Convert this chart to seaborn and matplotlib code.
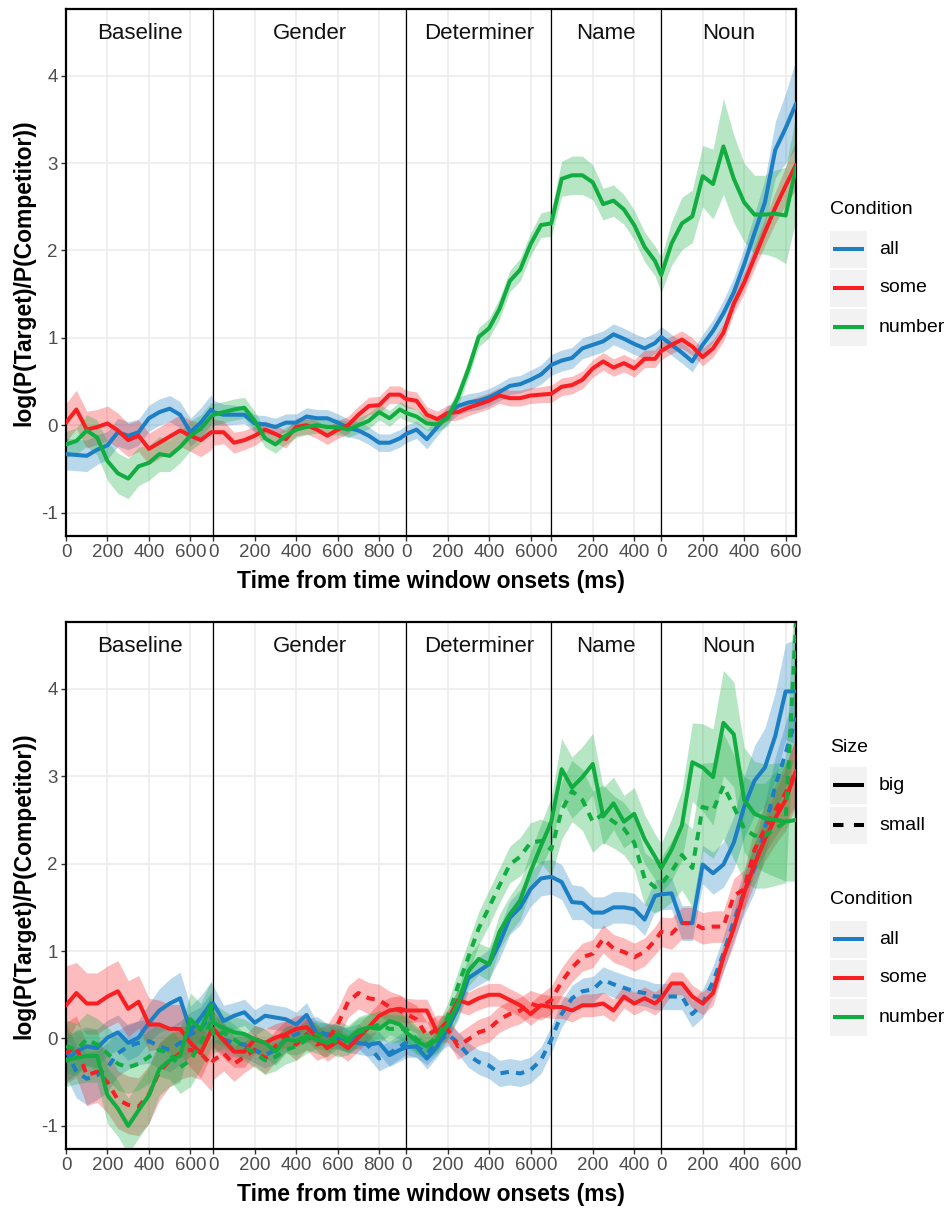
import numpy as np
import pandas as pd
import matplotlib
matplotlib.use("Agg")
import matplotlib.pyplot as plt
import seaborn as sns
from matplotlib.patches import Rectangle
from matplotlib.transforms import blended_transform_factory

# ---------------------------------------------------------------- data
segments = ["Baseline", "Gender", "Determiner", "Name", "Noun"]
segment_lengths = [710, 930, 700, 530, 650]          # ms shown per window
segment_samples = [15, 19, 14, 11, 14]               # 50-ms bins per window
segment_ticks = [[0, 200, 400, 600], [0, 200, 400, 600, 800],
                 [0, 200, 400, 600], [0, 200, 400], [0, 200, 400, 600]]
bin_ms = 50

conditions = ["all", "some", "number"]
sizes = ["big", "small"]
palette = {"all": "#1C7EC3", "some": "#F81E22", "number": "#12AD40"}

# Upper panel: mean log-ratio per condition, one sub-list per window
top_all = [
    [-0.33, -0.34, -0.35, -0.28, -0.23, -0.08, -0.12, -0.08, 0.08, 0.15, 0.19, 0.12, -0.08, 0.03, 0.18],
    [0.15, 0.12, 0.12, 0.12, 0.02, 0.01, -0.02, 0.03, 0.03, 0.10, 0.08, 0.08, 0.03, -0.03, -0.06, -0.12, -0.20, -0.20, -0.15],
    [-0.10, -0.05, -0.16, -0.02, 0.12, 0.22, 0.26, 0.28, 0.32, 0.38, 0.45, 0.47, 0.52, 0.58],
    [0.69, 0.74, 0.77, 0.88, 0.92, 0.96, 1.04, 0.99, 0.93, 0.88, 0.94],
    [1.01, 0.92, 0.83, 0.73, 0.92, 1.08, 1.28, 1.52, 1.84, 2.20, 2.55, 3.15, 3.40, 3.68],
]
top_all_ci = [
    [0.18, 0.18, 0.18, 0.17, 0.16, 0.16, 0.16, 0.15, 0.15, 0.15, 0.15, 0.15, 0.16, 0.17, 0.17],
    [0.14, 0.12, 0.11, 0.10, 0.10, 0.10, 0.10, 0.10, 0.10, 0.10, 0.10, 0.10, 0.10, 0.10, 0.10, 0.10, 0.10, 0.10, 0.10],
    [0.10, 0.10, 0.11, 0.10, 0.10, 0.10, 0.10, 0.10, 0.10, 0.10, 0.10, 0.10, 0.11, 0.11],
    [0.12, 0.12, 0.12, 0.12, 0.12, 0.12, 0.12, 0.12, 0.12, 0.12, 0.12],
    [0.12, 0.12, 0.12, 0.12, 0.12, 0.13, 0.15, 0.17, 0.19, 0.22, 0.26, 0.32, 0.40, 0.50],
]
top_some = [
    [0.03, 0.18, -0.05, -0.02, 0.02, -0.06, -0.17, -0.12, -0.27, -0.20, -0.13, -0.06, -0.12, -0.17, -0.08],
    [-0.08, -0.08, -0.20, -0.17, -0.12, -0.05, -0.10, -0.16, -0.02, 0.00, -0.05, -0.12, -0.05, 0.00, 0.12, 0.22, 0.23, 0.35, 0.35],
    [0.30, 0.28, 0.12, 0.07, 0.14, 0.15, 0.20, 0.24, 0.28, 0.34, 0.31, 0.31, 0.34, 0.35],
    [0.36, 0.44, 0.46, 0.52, 0.65, 0.73, 0.66, 0.71, 0.65, 0.76, 0.76],
    [0.85, 0.92, 0.98, 0.90, 0.78, 0.88, 1.06, 1.39, 1.63, 1.92, 2.21, 2.49, 2.74, 2.98],
]
top_some_ci = [
    [0.22, 0.22, 0.21, 0.20, 0.20, 0.20, 0.19, 0.18, 0.18, 0.18, 0.18, 0.18, 0.18, 0.19, 0.20],
    [0.15, 0.13, 0.12, 0.11, 0.11, 0.10, 0.10, 0.10, 0.10, 0.10, 0.10, 0.10, 0.10, 0.10, 0.10, 0.10, 0.10, 0.10, 0.10],
    [0.10, 0.10, 0.09, 0.09, 0.09, 0.09, 0.09, 0.09, 0.09, 0.09, 0.09, 0.09, 0.09, 0.09],
    [0.10, 0.10, 0.10, 0.10, 0.10, 0.10, 0.10, 0.10, 0.10, 0.10, 0.10],
    [0.10, 0.10, 0.10, 0.10, 0.10, 0.10, 0.10, 0.11, 0.12, 0.13, 0.15, 0.18, 0.22, 0.28],
]
top_number = [
    [-0.22, -0.18, -0.06, -0.14, -0.41, -0.55, -0.61, -0.47, -0.43, -0.33, -0.35, -0.25, -0.12, -0.04, 0.10],
    [0.12, 0.15, 0.18, 0.20, 0.05, -0.15, -0.22, -0.12, -0.05, -0.02, 0.00, -0.02, -0.02, -0.05, 0.00, 0.05, 0.15, 0.08, 0.18],
    [0.14, 0.10, 0.02, 0.01, 0.08, 0.32, 0.64, 1.01, 1.11, 1.33, 1.65, 1.78, 2.07, 2.29],
    [2.31, 2.82, 2.86, 2.86, 2.78, 2.53, 2.57, 2.47, 2.29, 2.04, 1.88],
    [1.72, 2.08, 2.31, 2.39, 2.85, 2.76, 3.19, 2.82, 2.55, 2.41, 2.41, 2.42, 2.40, 2.95],
]
top_number_ci = [
    [0.15, 0.15, 0.18, 0.20, 0.22, 0.23, 0.23, 0.22, 0.20, 0.20, 0.18, 0.18, 0.17, 0.16, 0.16],
    [0.13, 0.12, 0.12, 0.12, 0.11, 0.10, 0.10, 0.10, 0.09, 0.09, 0.09, 0.09, 0.09, 0.09, 0.09, 0.09, 0.09, 0.09, 0.09],
    [0.09, 0.08, 0.08, 0.08, 0.09, 0.10, 0.10, 0.11, 0.11, 0.12, 0.12, 0.13, 0.13, 0.14],
    [0.15, 0.20, 0.22, 0.22, 0.20, 0.18, 0.18, 0.17, 0.17, 0.17, 0.17],
    [0.20, 0.25, 0.30, 0.30, 0.35, 0.40, 0.55, 0.50, 0.45, 0.45, 0.45, 0.50, 0.55, 0.60],
]

# Lower panel: condition x size
bot_all_big = [
    [-0.25, -0.15, -0.09, -0.11, 0.01, 0.07, -0.05, 0.01, 0.18, 0.32, 0.40, 0.46, 0.09, 0.24, 0.40],
    [0.40, 0.20, 0.26, 0.30, 0.18, 0.26, 0.24, 0.22, 0.16, 0.27, 0.05, 0.05, 0.03, -0.03, -0.05, -0.07, -0.05, -0.19, -0.13],
    [-0.10, -0.09, -0.23, -0.09, 0.11, 0.35, 0.69, 0.77, 0.85, 1.09, 1.38, 1.50, 1.71, 1.83],
    [1.85, 1.79, 1.56, 1.55, 1.44, 1.44, 1.50, 1.50, 1.48, 1.36, 1.63],
    [1.65, 1.66, 1.32, 1.32, 1.99, 1.89, 1.99, 2.24, 2.65, 2.95, 3.10, 3.46, 3.97, 3.97],
]
bot_all_big_ci = [
    [0.25, 0.25, 0.22, 0.22, 0.20, 0.20, 0.20, 0.20, 0.22, 0.25, 0.28, 0.30, 0.28, 0.25, 0.25],
    [0.20, 0.18, 0.15, 0.15, 0.15, 0.14, 0.14, 0.14, 0.14, 0.14, 0.13, 0.13, 0.13, 0.13, 0.13, 0.13, 0.13, 0.13, 0.13],
    [0.12, 0.12, 0.12, 0.12, 0.13, 0.14, 0.15, 0.16, 0.17, 0.18, 0.19, 0.20, 0.20, 0.20],
    [0.20, 0.20, 0.20, 0.19, 0.18, 0.18, 0.18, 0.18, 0.18, 0.18, 0.18],
    [0.18, 0.18, 0.20, 0.20, 0.22, 0.24, 0.26, 0.30, 0.35, 0.40, 0.45, 0.50, 0.55, 0.60],
]
bot_all_small = [
    [-0.13, -0.38, -0.46, -0.42, -0.33, -0.17, -0.09, -0.05, -0.03, -0.09, -0.13, -0.05, 0.05, 0.11, 0.28],
    [0.11, -0.01, -0.05, -0.07, -0.13, -0.19, -0.13, -0.01, 0.05, 0.09, 0.11, 0.03, 0.01, -0.01, 0.03, -0.09, -0.23, -0.17, -0.09],
    [-0.05, -0.09, -0.17, -0.05, 0.05, -0.05, -0.19, -0.27, -0.31, -0.40, -0.38, -0.40, -0.36, -0.25],
    [-0.01, 0.28, 0.46, 0.54, 0.56, 0.67, 0.62, 0.58, 0.54, 0.52, 0.48],
    [0.48, 0.48, 0.48, 0.28, 0.40, 0.65, 0.97, 1.34, 1.67, 1.95, 2.40, 2.89, 3.26, 3.67],
]
bot_all_small_ci = [
    [0.30, 0.30, 0.30, 0.28, 0.28, 0.26, 0.26, 0.25, 0.25, 0.25, 0.25, 0.25, 0.25, 0.25, 0.25],
    [0.20, 0.18, 0.16, 0.15, 0.15, 0.15, 0.15, 0.14, 0.14, 0.14, 0.14, 0.14, 0.14, 0.14, 0.14, 0.14, 0.14, 0.14, 0.14],
    [0.13, 0.13, 0.13, 0.13, 0.13, 0.13, 0.14, 0.14, 0.15, 0.15, 0.15, 0.15, 0.15, 0.15],
    [0.15, 0.15, 0.15, 0.15, 0.15, 0.15, 0.15, 0.15, 0.15, 0.15, 0.15],
    [0.15, 0.15, 0.15, 0.15, 0.16, 0.18, 0.20, 0.22, 0.25, 0.28, 0.30, 0.33, 0.35, 0.40],
]
bot_some_big = [
    [0.38, 0.52, 0.40, 0.40, 0.48, 0.54, 0.34, 0.42, 0.16, 0.16, 0.11, 0.11, -0.05, -0.17, 0.09],
    [0.11, -0.02, -0.15, -0.15, -0.01, -0.05, 0.01, 0.05, 0.11, 0.13, 0.01, -0.11, -0.03, -0.11, 0.01, 0.13, 0.26, 0.32, 0.34],
    [0.32, 0.32, 0.32, 0.07, 0.20, 0.44, 0.40, 0.46, 0.50, 0.50, 0.44, 0.38, 0.28, 0.38],
    [0.36, 0.36, 0.32, 0.38, 0.38, 0.40, 0.32, 0.48, 0.40, 0.46, 0.40],
    [0.46, 0.63, 0.63, 0.48, 0.40, 0.52, 0.93, 1.26, 1.67, 1.99, 2.28, 2.52, 2.73, 3.06],
]
bot_some_big_ci = [
    [0.45, 0.35, 0.35, 0.35, 0.35, 0.35, 0.32, 0.30, 0.30, 0.28, 0.28, 0.28, 0.28, 0.28, 0.28],
    [0.22, 0.20, 0.18, 0.18, 0.16, 0.16, 0.16, 0.15, 0.15, 0.15, 0.15, 0.15, 0.15, 0.15, 0.15, 0.15, 0.15, 0.15, 0.15],
    [0.14, 0.13, 0.13, 0.13, 0.13, 0.13, 0.13, 0.13, 0.13, 0.13, 0.13, 0.13, 0.13, 0.13],
    [0.13, 0.13, 0.13, 0.13, 0.13, 0.13, 0.13, 0.13, 0.13, 0.13, 0.13],
    [0.13, 0.13, 0.13, 0.13, 0.13, 0.14, 0.16, 0.18, 0.20, 0.22, 0.25, 0.30, 0.35, 0.40],
]
bot_some_small = [
    [-0.17, -0.09, -0.42, -0.38, -0.50, -0.70, -0.76, -0.78, -0.64, -0.38, -0.25, -0.17, -0.13, -0.17, -0.30],
    [-0.25, -0.17, -0.29, -0.21, -0.13, -0.23, -0.09, 0.03, -0.07, 0.05, -0.07, -0.02, 0.16, 0.42, 0.52, 0.46, 0.44, 0.36, 0.32],
    [0.28, 0.22, 0.03, 0.11, 0.11, -0.09, -0.01, 0.07, 0.11, 0.22, 0.28, 0.32, 0.40, 0.36],
    [0.44, 0.65, 0.81, 0.93, 0.97, 1.14, 1.03, 0.99, 0.93, 0.99, 1.12],
    [1.22, 1.20, 1.32, 1.32, 1.26, 1.28, 1.28, 1.63, 1.71, 2.16, 2.40, 2.61, 2.81, 3.06],
]
bot_some_small_ci = [
    [0.35, 0.35, 0.35, 0.35, 0.35, 0.33, 0.33, 0.33, 0.33, 0.33, 0.30, 0.30, 0.30, 0.30, 0.30],
    [0.22, 0.20, 0.20, 0.18, 0.18, 0.18, 0.18, 0.18, 0.18, 0.18, 0.18, 0.18, 0.18, 0.18, 0.18, 0.18, 0.18, 0.18, 0.18],
    [0.16, 0.16, 0.16, 0.16, 0.15, 0.15, 0.15, 0.15, 0.15, 0.15, 0.15, 0.15, 0.15, 0.15],
    [0.16, 0.16, 0.16, 0.16, 0.16, 0.16, 0.16, 0.16, 0.16, 0.16, 0.16],
    [0.17, 0.18, 0.18, 0.18, 0.18, 0.18, 0.18, 0.20, 0.22, 0.25, 0.28, 0.30, 0.33, 0.38],
]
bot_number_big = [
    [-0.25, -0.22, -0.20, -0.20, -0.65, -0.80, -1.00, -0.82, -0.65, -0.35, -0.25, -0.20, 0.22, 0.10, 0.38],
    [0.18, 0.12, 0.07, 0.05, -0.01, -0.05, -0.15, -0.01, -0.03, 0.03, -0.01, -0.05, 0.05, -0.01, 0.09, 0.13, 0.11, 0.20, 0.16],
    [0.07, -0.03, -0.09, -0.01, 0.16, 0.40, 0.77, 0.91, 0.85, 1.22, 1.42, 1.58, 1.91, 2.20],
    [2.48, 3.08, 2.87, 2.99, 3.14, 2.54, 2.69, 2.48, 2.57, 2.28, 2.08],
    [1.95, 2.16, 2.44, 3.16, 3.10, 2.99, 3.61, 3.48, 2.73, 2.57, 2.52, 2.50, 2.48, 2.50],
]
bot_number_big_ci = [
    [0.30, 0.30, 0.30, 0.30, 0.32, 0.32, 0.32, 0.32, 0.32, 0.30, 0.30, 0.30, 0.30, 0.30, 0.28],
    [0.22, 0.20, 0.18, 0.17, 0.16, 0.16, 0.16, 0.16, 0.16, 0.16, 0.16, 0.16, 0.16, 0.16, 0.16, 0.16, 0.16, 0.16, 0.16],
    [0.15, 0.15, 0.15, 0.15, 0.15, 0.16, 0.17, 0.18, 0.19, 0.20, 0.21, 0.22, 0.23, 0.25],
    [0.28, 0.35, 0.35, 0.35, 0.35, 0.33, 0.30, 0.30, 0.30, 0.28, 0.26],
    [0.28, 0.35, 0.40, 0.45, 0.50, 0.55, 0.60, 0.60, 0.60, 0.60, 0.62, 0.65, 0.68, 0.70],
]
bot_number_small = [
    [-0.09, -0.13, -0.01, -0.07, -0.17, -0.29, -0.33, -0.29, -0.21, -0.13, -0.17, -0.33, -0.25, -0.05, 0.20],
    [0.03, 0.07, -0.01, -0.09, -0.17, -0.25, -0.21, -0.13, -0.09, -0.01, 0.05, 0.01, -0.05, -0.03, 0.07, 0.11, 0.16, 0.11, 0.11],
    [0.11, -0.01, -0.07, 0.01, 0.24, 0.60, 0.93, 1.26, 1.50, 1.75, 1.99, 2.08, 2.24, 2.26],
    [2.16, 2.61, 2.83, 2.73, 2.48, 2.57, 2.48, 2.40, 2.24, 1.83, 1.73],
    [1.77, 1.91, 2.10, 1.95, 2.65, 2.61, 2.89, 2.65, 2.40, 2.32, 2.32, 2.40, 2.48, 4.75],
]
bot_number_small_ci = [
    [0.30, 0.30, 0.30, 0.30, 0.30, 0.30, 0.30, 0.30, 0.30, 0.30, 0.30, 0.30, 0.30, 0.30, 0.30],
    [0.20, 0.18, 0.17, 0.16, 0.16, 0.16, 0.16, 0.16, 0.16, 0.16, 0.16, 0.16, 0.16, 0.16, 0.16, 0.16, 0.16, 0.16, 0.16],
    [0.15, 0.15, 0.15, 0.15, 0.16, 0.17, 0.18, 0.19, 0.20, 0.20, 0.21, 0.22, 0.23, 0.25],
    [0.30, 0.33, 0.35, 0.35, 0.35, 0.33, 0.30, 0.30, 0.30, 0.30, 0.30],
    [0.30, 0.35, 0.40, 0.45, 0.50, 0.55, 0.60, 0.60, 0.60, 0.60, 0.60, 0.65, 0.70, 0.75],
]

top_series = {
    ("all", "big"): (top_all, top_all_ci),
    ("some", "big"): (top_some, top_some_ci),
    ("number", "big"): (top_number, top_number_ci),
}
bot_series = {
    ("all", "big"): (bot_all_big, bot_all_big_ci),
    ("all", "small"): (bot_all_small, bot_all_small_ci),
    ("some", "big"): (bot_some_big, bot_some_big_ci),
    ("some", "small"): (bot_some_small, bot_some_small_ci),
    ("number", "big"): (bot_number_big, bot_number_big_ci),
    ("number", "small"): (bot_number_small, bot_number_small_ci),
}

# ------------------------------------------------------- time axis
offsets = np.concatenate([[0], np.cumsum(segment_lengths)[:-1]])
x_end = float(np.sum(segment_lengths))
sample_x = np.concatenate([off + bin_ms * np.arange(n)
                           for off, n in zip(offsets, segment_samples)])
tick_pos, tick_lab = [], []
for off, ticks in zip(offsets, segment_ticks):
    for t in ticks:
        tick_pos.append(off + t)
        tick_lab.append(str(t))


def to_frame(series):
    rows = []
    for (cond, size), (vals, ci) in series.items():
        y = np.concatenate([np.asarray(v, float) for v in vals])
        h = np.concatenate([np.asarray(v, float) for v in ci])
        rows.append(pd.DataFrame({"x": sample_x, "y": y, "lo": y - h, "hi": y + h,
                                  "Condition": cond, "Size": size}))
    return pd.concat(rows, ignore_index=True)


top_df = to_frame(top_series)
bot_df = to_frame(bot_series)

# ------------------------------------------------------- styling
sns.set_theme(style="white")
plt.rcParams["font.family"] = ["Liberation Sans", "DejaVu Sans"]

W, H = 949, 1208
fig = plt.figure(figsize=(W / 100, H / 100), dpi=100)
fig.patch.set_facecolor("white")

LEFT, RIGHT = 66, 796
PANELS = [(8.9, 535.7), (622.0, 1149.0)]
YLIM = (-1.264, 4.764)
LINE_W = 2.9
DASH = (2.1, 1.8)


def px_axes(top, bottom):
    return fig.add_axes([LEFT / W, 1 - bottom / H, (RIGHT - LEFT) / W, (bottom - top) / H])


def draw_panel(ax, df, styled, panel_h):
    ax.set_facecolor("white")
    ax.set_axisbelow(True)
    for (cond, size), g in df.groupby(["Condition", "Size"], sort=False):
        ax.fill_between(g["x"], g["lo"], g["hi"], color=palette[cond],
                        alpha=0.30, linewidth=0, zorder=1)
    for off in offsets[1:]:
        ax.axvline(off, color="black", lw=0.9, zorder=1.5)
    kws = dict(data=df, x="x", y="y", hue="Condition", hue_order=conditions,
               palette=palette, linewidth=LINE_W, estimator=None, sort=False,
               legend=False, ax=ax, zorder=3)
    if styled:
        kws.update(style="Size", style_order=sizes, dashes={"big": "", "small": DASH})
    sns.lineplot(**kws)
    for ln in ax.get_lines():
        ln.set_dash_capstyle("butt")
        ln.set_solid_joinstyle("round")

    ax.set_xlim(0, x_end)
    ax.set_ylim(*YLIM)
    ax.set_xticks(tick_pos)
    ax.set_xticklabels(tick_lab)
    ax.set_yticks([-1, 0, 1, 2, 3, 4])
    ax.set_yticklabels(["-1", "0", "1", "2", "3", "4"])
    ax.grid(True, color="#EBEBEB", lw=1.1)
    ax.tick_params(axis="both", which="major", labelsize=13.5, labelcolor="#4D4D4D",
                   color="#333333", length=3.5, width=1.0, pad=2.5,
                   bottom=True, left=True)
    for sp in ax.spines.values():
        sp.set_visible(True)
        sp.set_color("black")
        sp.set_linewidth(1.6)

    tr = blended_transform_factory(ax.transData, ax.transAxes)
    for name, off, L in zip(segments, offsets, segment_lengths):
        ax.text(off + L / 2, 0.953, name, transform=tr, ha="center", va="center",
                fontsize=16, color="#111111")

    ax.set_xlabel("Time from time window onsets (ms)", fontsize=16.5,
                  fontweight="bold", color="black")
    ax.set_ylabel("log(P(Target)/P(Competitor))", fontsize=16.5,
                  fontweight="bold", color="black")
    ax.xaxis.label.set_va("center")
    ax.yaxis.label.set_va("center")
    ax.xaxis.set_label_coords(0.5, -46 / panel_h)
    ax.yaxis.set_label_coords((24 - LEFT) / (RIGHT - LEFT), 0.5)


for (top, bottom), df, styled in zip(PANELS, [top_df, bot_df], [False, True]):
    ax = px_axes(top, bottom)
    draw_panel(ax, df, styled, bottom - top)

# ------------------------------------------------------- legends
leg = fig.add_axes([0, 0, 1, 1], zorder=10)
leg.set_xlim(0, W)
leg.set_ylim(H, 0)
leg.set_axis_off()

KEY_X, KEY_W, KEY_H = 830, 37.5, 37
TEXT_X = 879


def legend_title(y, text):
    leg.text(KEY_X, y, text, ha="left", va="center", fontsize=14, color="black")


def legend_key(y, label, color, dashes=None):
    leg.add_patch(Rectangle((KEY_X, y - KEY_H / 2), KEY_W, KEY_H,
                            facecolor="#F2F2F2", edgecolor="none"))
    ln, = leg.plot([KEY_X + 3.5, KEY_X + KEY_W - 3.5], [y, y], color=color,
                   lw=LINE_W, solid_capstyle="butt", dash_capstyle="butt")
    if dashes:
        ln.set_dashes(dashes)
    leg.text(TEXT_X, y, label, ha="left", va="center", fontsize=14, color="black")


legend_title(210, "Condition")
for yc, cond in zip([249, 288, 327], conditions):
    legend_key(yc, cond, palette[cond])

legend_title(747, "Size")
for yc, size in zip([785, 825], sizes):
    legend_key(yc, size, "black", None if size == "big" else (2.6, 2.6))
legend_title(900, "Condition")
for yc, cond in zip([939, 978, 1017], conditions):
    legend_key(yc, cond, palette[cond])

fig.savefig("out.png", dpi=100, facecolor="white")
